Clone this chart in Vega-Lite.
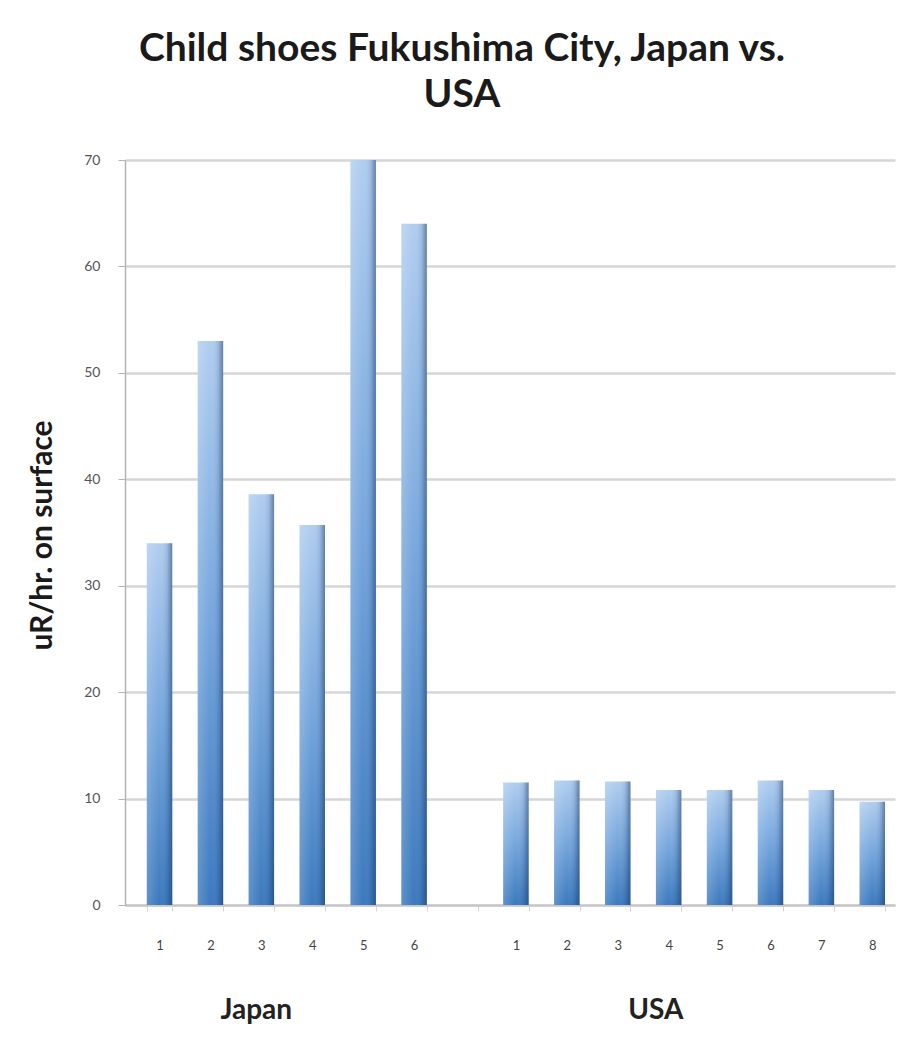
{
  "$schema": "https://vega.github.io/schema/vega-lite/v6.json",
  "width": 770,
  "height": 745,
  "autosize": {"type": "none"},
  "padding": {"left": 125, "top": 160, "right": 8, "bottom": 142},
  "background": "white",
  "config": {"view": {"stroke": null}, "font": "Lato"},
  "title": {
    "text": ["Child shoes Fukushima City, Japan vs.", "USA"],
    "font": "Lato",
    "fontSize": 39,
    "fontWeight": "bold",
    "color": "#1a1a1a",
    "lineHeight": 46,
    "anchor": "middle",
    "dx": -48,
    "offset": 38
  },
  "datasets": {
    "bars": [
      {"country": "Japan", "key": "J1", "value": 34},
      {"country": "Japan", "key": "J2", "value": 53},
      {"country": "Japan", "key": "J3", "value": 38.6},
      {"country": "Japan", "key": "J4", "value": 35.7},
      {"country": "Japan", "key": "J5", "value": 70},
      {"country": "Japan", "key": "J6", "value": 64},
      {"country": "USA", "key": "U1", "value": 11.5},
      {"country": "USA", "key": "U2", "value": 11.7},
      {"country": "USA", "key": "U3", "value": 11.6},
      {"country": "USA", "key": "U4", "value": 10.8},
      {"country": "USA", "key": "U5", "value": 10.8},
      {"country": "USA", "key": "U6", "value": 11.7},
      {"country": "USA", "key": "U7", "value": 10.8},
      {"country": "USA", "key": "U8", "value": 9.7}
    ],
    "groups": [
      {"label": "Japan", "key": "J3", "value": -10},
      {"label": "USA", "key": "U4", "value": -10}
    ]
  },
  "data": {"name": "bars"},
  "encoding": {
    "x": {
      "field": "key",
      "type": "nominal",
      "sort": null,
      "scale": {
        "domain": ["J1", "J2", "J3", "J4", "J5", "J6", "gap", "U1", "U2", "U3", "U4", "U5", "U6", "U7", "U8"],
        "paddingInner": 0.5,
        "paddingOuter": 0.312,
        "align": 0.686
      },
      "axis": {
        "title": null,
        "labelExpr": "isString(datum.value) && datum.value != 'gap' ? substring(datum.value, 1) : ''",
        "labelAngle": 0,
        "labelColor": "#444444",
        "labelFontSize": 13,
        "labelPadding": 28,
        "domainColor": "#c4c4c4",
        "domainWidth": 2,
        "tickBand": "extent",
        "tickColor": "#e2cfcf",
        "tickSize": 6
      }
    },
    "y": {
      "field": "value",
      "type": "quantitative",
      "scale": {"domain": [0, 70], "nice": false},
      "axis": {
        "title": "uR/hr. on surface",
        "values": [0, 10, 20, 30, 40, 50, 60, 70],
        "grid": true,
        "gridColor": "#d6d6d6",
        "gridWidth": 2.5,
        "domainColor": "#b4b4b4",
        "domainWidth": 1.5,
        "tickColor": "#b4b4b4",
        "tickSize": 7,
        "labelColor": "#555555",
        "labelFontSize": 14,
        "labelPadding": 18,
        "titleFont": "Lato",
        "titleFontSize": 30,
        "titleFontWeight": "bold",
        "titleColor": "#1a1a1a",
        "titleAngle": -90,
        "titleX": -83,
        "titleY": 375,
        "titleAlign": "center",
        "titleBaseline": "middle"
      }
    }
  },
  "layer": [
    {
      "mark": {
        "type": "bar",
        "color": {
          "gradient": "linear",
          "x1": 0, "y1": 0, "x2": 0, "y2": 1,
          "stops": [
            {"offset": 0, "color": "#b0cdef"},
            {"offset": 0.5, "color": "#75a6dc"},
            {"offset": 1, "color": "#3b79bd"}
          ]
        }
      }
    },
    {
      "mark": {
        "type": "bar",
        "color": {
          "gradient": "linear",
          "x1": 0, "y1": 0, "x2": 1, "y2": 0,
          "stops": [
            {"offset": 0, "color": "rgba(255,255,255,0.18)"},
            {"offset": 0.5, "color": "rgba(255,255,255,0)"},
            {"offset": 0.8, "color": "rgba(20,50,100,0.12)"},
            {"offset": 1, "color": "rgba(20,50,100,0.5)"}
          ]
        }
      }
    },
    {
      "data": {"name": "groups"},
      "transform": [{"filter": "datum.label == 'Japan'"}],
      "mark": {"type": "text", "font": "Lato", "fontSize": 28, "fontWeight": "bold", "color": "#222222", "baseline": "middle"},
      "encoding": {
        "x": {"field": "key", "type": "nominal", "bandPosition": 0.3},
        "y": {"field": "value", "type": "quantitative"},
        "text": {"field": "label"}
      }
    },
    {
      "data": {"name": "groups"},
      "transform": [{"filter": "datum.label == 'USA'"}],
      "mark": {"type": "text", "font": "Lato", "fontSize": 28, "fontWeight": "bold", "color": "#222222", "baseline": "middle"},
      "encoding": {
        "x": {"field": "key", "type": "nominal", "bandPosition": 0},
        "y": {"field": "value", "type": "quantitative"},
        "text": {"field": "label"}
      }
    }
  ]
}
